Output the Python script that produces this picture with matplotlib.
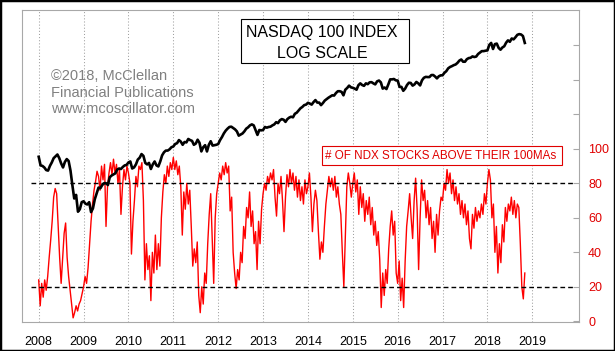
#!/usr/bin/env python3
"""NASDAQ 100 (log scale) vs % of NDX stocks above their 100-day MAs."""

import numpy as np
import matplotlib

matplotlib.use("Agg")
import matplotlib.pyplot as plt
from matplotlib.patches import Rectangle
from matplotlib.ticker import NullLocator

plt.rcParams["font.family"] = ["Liberation Sans", "DejaVu Sans"]

W, H = 615, 351

years = list(range(2008, 2020))
year_labels = [str(y) for y in years]

# % of NDX stocks above 100MA (30 readings per year)
PCT_PER_YEAR = 30
pct_2008 = [24, 9, 22, 14, 24, 18, 26, 37, 47, 58, 72, 77, 74, 55, 37,
            22, 37, 51, 57, 37, 26, 18, 10, 2, 5, 9, 6, 10, 12, 16]
pct_2009 = [20, 26, 22, 31, 45, 58, 68, 76, 81, 87, 84, 76, 90, 82, 91,
            55, 78, 86, 92, 85, 94, 86, 91, 80, 88, 62, 78, 88, 82, 90]
pct_2010 = [86, 80, 39, 58, 70, 84, 78, 90, 88, 92, 70, 24, 45, 30, 38,
            12, 40, 28, 50, 30, 45, 32, 60, 75, 85, 80, 90, 84, 92, 88]
pct_2011 = [95, 88, 93, 85, 90, 78, 50, 75, 65, 80, 68, 76, 55, 32, 42,
            34, 46, 15, 5, 20, 10, 28, 22, 45, 62, 74, 48, 22, 60, 74]
pct_2012 = [80, 86, 82, 90, 85, 92, 86, 90, 64, 72, 40, 28, 19, 30, 24,
            40, 34, 55, 48, 66, 60, 75, 55, 64, 45, 52, 30, 58, 45, 65]
pct_2013 = [74, 80, 76, 84, 80, 86, 82, 88, 72, 61, 80, 74, 84, 70, 52,
            72, 85, 78, 88, 80, 86, 76, 84, 72, 82, 70, 78, 68, 82, 74]
pct_2014 = [78, 86, 72, 52, 68, 76, 70, 52, 36, 46, 40, 55, 68, 76, 84,
            78, 83, 76, 84, 72, 78, 68, 62, 40, 20, 50, 78, 86, 80, 72]
pct_2015 = [80, 86, 75, 82, 62, 78, 66, 74, 58, 70, 62, 72, 56, 66, 50,
            58, 44, 52, 36, 8, 28, 15, 30, 22, 42, 55, 64, 50, 58, 28]
pct_2016 = [22, 35, 12, 25, 8, 35, 55, 64, 74, 60, 48, 70, 83, 65, 30,
            60, 82, 70, 76, 60, 70, 56, 66, 48, 58, 40, 62, 50, 64, 72]
pct_2017 = [70, 80, 76, 88, 80, 86, 74, 82, 70, 78, 68, 74, 62, 70, 60,
            68, 56, 64, 48, 42, 62, 54, 66, 58, 64, 60, 68, 62, 74, 68]
pct_2018 = [80, 88, 82, 60, 68, 40, 55, 28, 45, 34, 56, 46, 66, 58, 68,
            64, 72, 62, 70, 60, 68, 66, 45, 20, 13, 28]

# NASDAQ 100 index, two readings per month
NDX_PER_YEAR = 24
ndx_2008 = [1980, 1800, 1790, 1760, 1710, 1700, 1790, 1860, 1950, 1990, 2030, 1950,
            1840, 1760, 1870, 1930, 1890, 1700, 1450, 1250, 1300, 1080, 1110, 1200]
ndx_2009 = [1212, 1180, 1170, 1200, 1075, 1120, 1240, 1320, 1410, 1400, 1450, 1480,
            1480, 1450, 1580, 1610, 1630, 1650, 1720, 1740, 1730, 1770, 1800, 1810]
ndx_2010 = [1860, 1880, 1740, 1760, 1820, 1920, 1960, 2040, 2000, 1850, 1820, 1850,
            1730, 1820, 1880, 1800, 1780, 1880, 2010, 2080, 2120, 2120, 2150, 2200]
ndx_2011 = [2218, 2280, 2300, 2380, 2340, 2260, 2330, 2320, 2410, 2380, 2360, 2260,
            2290, 2390, 2310, 2100, 2200, 2250, 2100, 2260, 2350, 2240, 2250, 2260]
ndx_2012 = [2278, 2380, 2460, 2560, 2640, 2700, 2750, 2760, 2720, 2680, 2620, 2500,
            2530, 2560, 2620, 2700, 2740, 2800, 2830, 2800, 2660, 2520, 2660, 2650]
ndx_2013 = [2660, 2750, 2730, 2750, 2760, 2800, 2830, 2900, 2870, 2960, 3000, 2980,
            2910, 3000, 3050, 3080, 3060, 3180, 3220, 3300, 3380, 3430, 3500, 3520]
ndx_2014 = [3590, 3560, 3520, 3620, 3700, 3600, 3600, 3500, 3580, 3680, 3740, 3800,
            3850, 3900, 3890, 4000, 4080, 4080, 4050, 3900, 4150, 4230, 4340, 4260]
ndx_2015 = [4236, 4200, 4150, 4360, 4450, 4370, 4330, 4450, 4410, 4500, 4510, 4450,
            4400, 4550, 4590, 4500, 4200, 4250, 4180, 4400, 4650, 4650, 4670, 4600]
ndx_2016 = [4590, 4280, 4280, 4100, 4200, 4370, 4480, 4470, 4340, 4400, 4520, 4450,
            4350, 4600, 4730, 4780, 4770, 4770, 4875, 4880, 4800, 4700, 4810, 4860]
ndx_2017 = [4864, 5000, 5090, 5250, 5330, 5380, 5440, 5480, 5580, 5720, 5790, 5650,
            5650, 5810, 5880, 5900, 5990, 5950, 5980, 6150, 6250, 6350, 6350, 6380]
ndx_2018 = [6400, 6800, 6950, 6500, 6860, 6900, 6580, 6450, 6610, 6700, 6970, 7150,
            7040, 7300, 7230, 7400, 7600, 7660, 7630, 7500, 6950]

pct_by_year = {2008: pct_2008, 2009: pct_2009, 2010: pct_2010, 2011: pct_2011,
               2012: pct_2012, 2013: pct_2013, 2014: pct_2014, 2015: pct_2015,
               2016: pct_2016, 2017: pct_2017, 2018: pct_2018}
ndx_by_year = {2008: ndx_2008, 2009: ndx_2009, 2010: ndx_2010, 2011: ndx_2011,
               2012: ndx_2012, 2013: ndx_2013, 2014: ndx_2014, 2015: ndx_2015,
               2016: ndx_2016, 2017: ndx_2017, 2018: ndx_2018}

red_levels = [0, 20, 40, 60, 80, 100, 120, 140, 160]
red_labels = ["0", "20", "40", "60", "80", "100", "", "", ""]
ref_levels = [20, 80]

RED = "#ff0000"
FRAME = "#a8a8a8"
TEXT_GRAY = "#808080"


def stitch(by_year, per_year):
    xs, ys = [], []
    for yr, vals in by_year.items():
        for i, v in enumerate(vals):
            xs.append(yr + i / per_year)
            ys.append(v)
    return np.array(xs), np.array(ys)


def fx(px):
    return px / W


def fy(py):
    return 1 - py / H


pct_x, pct_y = stitch(pct_by_year, PCT_PER_YEAR)
ndx_x, ndx_y = stitch(ndx_by_year, NDX_PER_YEAR)

fig = plt.figure(figsize=(W / 100, H / 100), dpi=100)
fig.patch.set_facecolor("white")

left, right, top, bottom = 21.7, 579, 10, 322
ax = fig.add_axes([fx(left), fy(bottom), (right - left) / W, (bottom - top) / H])
ax.set_xlim(2007.621, 2020.041)
ax.set_ylim(-0.4, 180.5)

ax.set_xticks(years)
ax.set_xticklabels(year_labels)
ax.grid(axis="x", color="#a0a0a0", linestyle=(0, (1, 2)), lw=0.75)
ax.set_axisbelow(True)
ax.tick_params(axis="x", length=0, pad=10, labelsize=9, labelcolor="black")

for s in ax.spines.values():
    s.set_color(FRAME)
    s.set_linewidth(0.8)

ax.plot(pct_x, pct_y, color=RED, lw=1.0, zorder=2)
for lvl in ref_levels:
    ax.plot([2007.83, 2019.9], [lvl, lvl], color="black", lw=1.0,
            linestyle=(0, (3.4, 2.2)), zorder=3)

# black NDX line on its own log scale
ax2 = ax.twinx()
ax2.set_yscale("log")
ax2.set_ylim(320, 9995)
ax2.plot(ndx_x, ndx_y, color="black", lw=1.9, solid_joinstyle="round")
ax2.yaxis.set_major_locator(NullLocator())
ax2.yaxis.set_minor_locator(NullLocator())
ax2.tick_params(right=False, labelright=False)
for s in ax2.spines.values():
    s.set_visible(False)

ax.yaxis.tick_right()
ax.set_yticks(red_levels)
ax.set_yticklabels(red_labels)
ax.tick_params(axis="y", direction="in", length=4.5, width=0.8, color=FRAME,
               labelcolor="#e00000", labelsize=9, pad=6.5, left=False, right=True)

# title box
fig.add_artist(Rectangle((fx(240.7), fy(63.3)), (409.3 - 240.7) / W, (63.3 - 19.3) / H,
                         transform=fig.transFigure, facecolor="white",
                         edgecolor="black", lw=0.8))
fig.text(fx(322), fy(32.3), "NASDAQ 100 INDEX", ha="center", va="center",
         fontsize=11.5, color="black")
fig.text(fx(322.8), fy(53.5), "LOG SCALE", ha="center", va="center",
         fontsize=11.5, color="black")

# red label box
fig.add_artist(Rectangle((fx(321.7), fy(165)), (561.7 - 321.7) / W, (165 - 146) / H,
                         transform=fig.transFigure, facecolor="white",
                         edgecolor="#e00000", lw=0.8))
fig.text(fx(441), fy(155.5), "# OF NDX STOCKS ABOVE THEIR 100MAs", ha="center",
         va="center", fontsize=8.4, color="#e00000")

# copyright
for txt, base in [("\u00a92018, McClellan", 80), ("Financial Publications", 97.3),
                  ("www.mcoscillator.com", 113.3)]:
    fig.text(fx(50.7), fy(base), txt, ha="left", va="baseline", fontsize=10.5,
             color=TEXT_GRAY)

# outer black frame
fig.add_artist(Rectangle((0, 0), 1, 1, transform=fig.transFigure, fill=False,
                         edgecolor="black", lw=2.5))

fig.savefig("out.png", dpi=100)
